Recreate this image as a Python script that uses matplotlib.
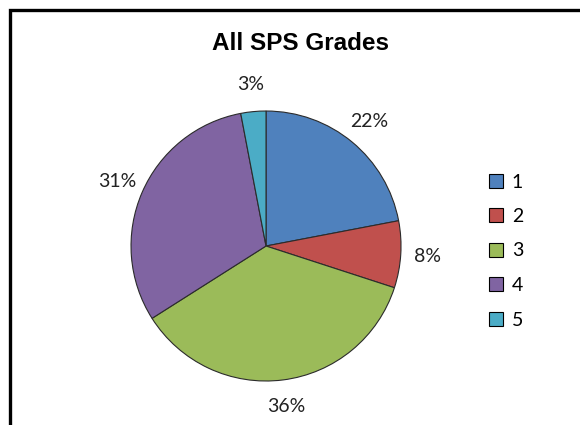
import matplotlib.pyplot as plt
from matplotlib.patches import Rectangle, Patch

# data
grades = ['1', '2', '3', '4', '5']
shares = [22, 8, 36, 31, 3]
colors = ['#4F81BD', '#C0504D', '#9BBB59', '#8064A2', '#4BACC6']

plt.rcParams['font.family'] = ['Liberation Sans', 'DejaVu Sans']

fig = plt.figure(figsize=(5.8, 4.25), dpi=100)

# chart frame (only top/left visible in the original crop)
fig.patches.append(Rectangle((10 / 580, -0.2), 2.0, 1.2 - 10 / 425,
                             transform=fig.transFigure, fill=False,
                             edgecolor='black', linewidth=2.4))

fig.text(301 / 580, 1 - 43 / 425, 'All SPS Grades', ha='center', va='center',
         fontsize=17.5, fontweight='bold')

ax = fig.add_axes([0.2259, 0.1035, 0.4655, 0.6353])
wedges, texts, autotexts = ax.pie(
    shares, colors=colors, startangle=90, counterclock=False,
    autopct='%1.0f%%', pctdistance=1.2,
    wedgeprops=dict(edgecolor='#2b2b2b', linewidth=0.8))
for t in autotexts:
    t.set_fontsize(14)
    t.set_family(['Lato', 'DejaVu Sans'])
    t.set_color('#222222')
ax.set_xlim(-1, 1)
ax.set_ylim(-1, 1)
ax.set_aspect('equal')
ax.axis('off')

handles = [Patch(facecolor=c, edgecolor='black', linewidth=0.8) for c in colors]
fig.legend(handles, grades, loc='center left',
           bbox_to_anchor=(489 / 580, 1 - 251 / 425),
           frameon=False, borderpad=0, borderaxespad=0,
           prop={'family': ['Lato', 'DejaVu Sans'], 'size': 14},
           labelspacing=0.9, handlelength=0.72, handleheight=0.72,
           handletextpad=0.45)

fig.savefig('out.png', dpi=100)
